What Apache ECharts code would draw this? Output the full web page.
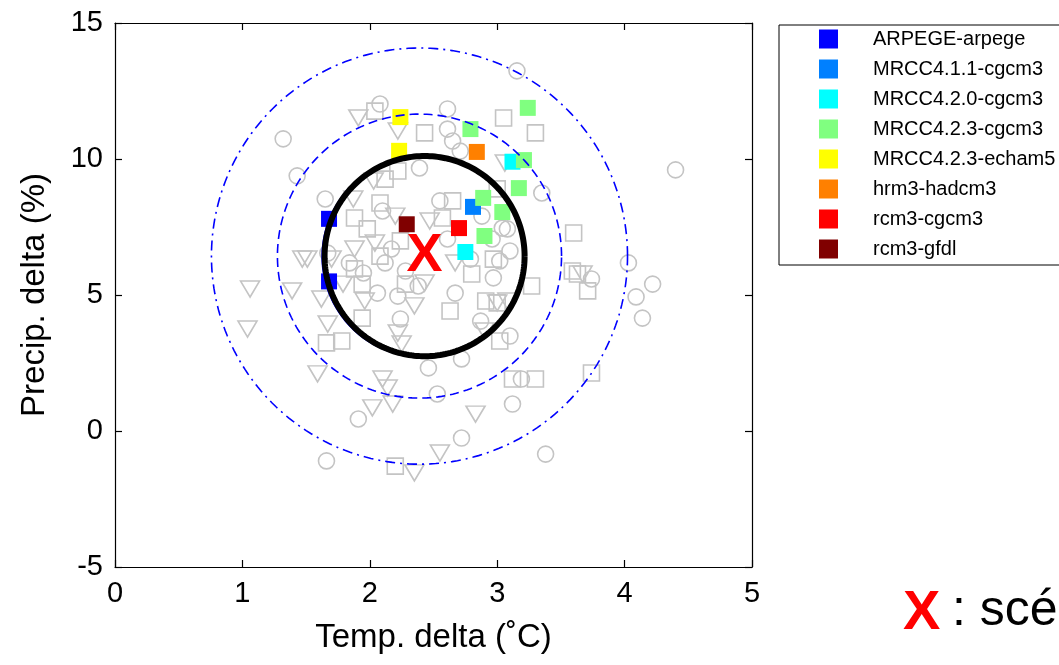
<!DOCTYPE html>
<html><head><meta charset="utf-8">
<script src="https://cdn.jsdelivr.net/npm/echarts@6/dist/echarts.min.js"></script>
<style>html,body{margin:0;padding:0;background:#fff}#c{width:1059px;height:665px}</style>
</head><body><div id="c"></div>
<script>
// ---- data ----
const xTicks = [0, 1, 2, 3, 4, 5];
const yTicks = [-5, 0, 5, 10, 15];
const modelNames = ['ARPEGE-arpege','MRCC4.1.1-cgcm3','MRCC4.2.0-cgcm3','MRCC4.2.3-cgcm3','MRCC4.2.3-echam5','hrm3-hadcm3','rcm3-cgcm3','rcm3-gfdl'];
const modelColors = ['#0000ff','#0080ff','#00ffff','#80ff80','#ffff00','#ff8000','#ff0000','#800000'];
const arpege = [[1.68, 7.8], [1.68, 5.5]];
const mrcc411 = [[2.81, 8.24]];
const mrcc420 = [[3.12, 9.9], [2.75, 6.58]];
const mrcc423cgcm3 = [[3.24, 11.88], [2.79, 11.1], [3.21, 9.96], [3.17, 8.93], [2.89, 8.57], [3.04, 8.05], [2.90, 7.17]];
const mrcc423echam5 = [[2.24, 11.54], [2.23, 10.3]];
const hrm3 = [[2.84, 10.26]];
const rcm3cgcm3 = [[2.70, 7.46]];
const rcm3gfdl = [[2.29, 7.6]];
const modelPoints = [arpege, mrcc411, mrcc420, mrcc423cgcm3, mrcc423echam5, hrm3, rcm3cgcm3, rcm3gfdl];

const grayCircles = [[3.155,13.24],[2.08,12.02],[1.32,10.74],[1.43,9.38],[2.39,9.67],[1.65,8.53],[2.61,11.84],[2.61,11.10],
  [2.65,10.66],[2.71,10.29],[3.35,8.75],[4.40,9.60],[4.03,6.18],[4.22,5.40],[4.09,4.93],[4.14,4.15],[2.10,8.09],[2.17,6.69],
  [1.67,6.54],[1.95,5.81],[2.55,8.46],[2.88,7.90],[3.04,7.46],[3.08,7.43],[2.96,7.06],[2.61,7.06],[2.97,5.63],[2.22,4.96],
  [2.06,5.07],[2.46,2.32],[1.91,0.44],[1.66,-1.10],[3.10,3.49],[2.72,2.65],[3.19,1.91],[2.53,1.36],[3.12,0.99],[2.72,-0.26],
  [3.38,-0.85],[3.74,5.59],[2.28,5.88],[2.12,6.18],[2.38,5.33],[1.84,6.18],[2.79,6.32],[2.67,5.07],[2.24,4.12],[2.87,4.04],
  [3.02,6.25],[3.10,6.62]];
const graySquares = [[2.04,11.76],[2.43,10.96],[3.05,11.51],[3.30,10.96],[2.22,9.56],[2.12,9.26],[1.88,7.83],[2.08,8.38],
  [1.98,7.43],[2.65,8.46],[2.57,7.83],[3.00,8.90],[3.60,7.28],[2.97,6.32],[2.80,5.77],[3.59,5.88],[1.94,5.40],[2.28,5.40],
  [1.94,4.15],[1.66,3.24],[1.78,3.31],[2.20,-1.29],[3.27,5.33],[3.00,4.71],[3.12,1.91],[3.30,1.91],[3.74,2.13],[3.63,5.77],
  [3.71,5.15],[2.24,6.99],[2.08,6.43],[1.88,5.96],[2.63,4.41],[3.02,3.31],[2.91,4.78]];
const grayTriangles = [[1.91,11.51],[2.22,11.03],[2.03,9.19],[1.87,8.53],[2.04,6.91],[1.88,6.69],[1.47,6.32],[1.51,6.32],
  [1.70,6.32],[3.06,9.85],[3.67,5.77],[1.39,5.15],[1.06,5.22],[1.04,3.75],[1.62,4.85],[2.43,5.44],[2.35,4.60],[1.67,3.93],
  [2.22,3.60],[2.25,3.20],[1.59,2.10],[2.10,1.91],[2.14,1.58],[2.02,0.85],[2.18,0.99],[2.35,-1.54],[3.00,4.71],[2.83,0.62],
  [2.55,-0.81],[2.47,7.72],[2.67,6.18],[1.79,5.40],[1.96,4.78],[2.90,3.68],[3.08,4.78],[2.20,7.90]];

const meanScenario = [2.43, 6.43];
const spreadCenter = [2.39, 6.43];
const innerCenter = [2.415, 6.41];
const blackRingRadius = [0.785, 3.68];
const innerRingRadius = [0.79, 3.70];
const dashedRingRadius = [1.115, 5.22];
const dashDotRingRadius = [1.633, 7.65];

// ---- chart ----
const FONT = '"Liberation Sans", Arial, sans-serif';
const chart = echarts.init(document.getElementById('c'), null, {renderer: 'canvas'});

function ring(center, radii, color, width, dash, z) {
  return {
    type: 'custom', coordinateSystem: 'cartesian2d', z: z, silent: true, clip: false,
    data: [[center[0], center[1], radii[0], radii[1]]],
    encode: {x: 0, y: 1},
    renderItem: function (params, api) {
      const cx = api.value(0), cy = api.value(1), rx = api.value(2), ry = api.value(3);
      const pts = [];
      for (let i = 0; i <= 240; i++) {
        const t = i / 240 * 2 * Math.PI;
        pts.push(api.coord([cx + rx * Math.cos(t), cy + ry * Math.sin(t)]));
      }
      return {type: 'polyline', shape: {points: pts},
        style: {stroke: color, lineWidth: width, lineDash: dash, fill: null}};
    }
  };
}

const grayStyle = {color: 'rgba(0,0,0,0)', borderColor: '#c4c4c4', borderWidth: 1.6, opacity: 1};
const series = [
  {type: 'scatter', z: 1, silent: true, symbol: 'circle', symbolSize: 16, itemStyle: grayStyle, data: grayCircles},
  {type: 'scatter', z: 1, silent: true, symbol: 'rect', symbolSize: 16, itemStyle: grayStyle, data: graySquares},
  {type: 'scatter', z: 1, silent: true, symbol: 'triangle', symbolRotate: 180, symbolSize: [19, 16], itemStyle: grayStyle, data: grayTriangles}
];
modelNames.forEach(function (n, i) {
  series.push({type: 'scatter', name: n, z: 2, silent: true, symbol: 'rect', symbolSize: 16,
    itemStyle: {color: modelColors[i], opacity: 1}, data: modelPoints[i]});
});
series.push(ring(spreadCenter, dashDotRingRadius, '#0000ff', 1.6, [10, 5, 2, 5], 3));
series.push(ring(spreadCenter, dashedRingRadius, '#0000ff', 1.6, [9, 5], 3));
series.push(ring(innerCenter, innerRingRadius, '#0000ff', 1.4, null, 3));
series.push(ring(meanScenario, blackRingRadius, '#000000', 6, null, 4));
series.push({type: 'scatter', z: 5, silent: true, symbolSize: 1, itemStyle: {color: 'rgba(0,0,0,0)', opacity: 1},
  label: {show: true, position: 'inside', formatter: 'X', color: '#ff0000', opacity: 1, fontSize: 54, fontWeight: 'bold', fontFamily: FONT},
  data: [meanScenario]});

function xAx(pos, show) {
  return {type: 'value', min: xTicks[0], max: xTicks[xTicks.length - 1], interval: 1, position: pos,
    axisLine: {show: true, onZero: false, lineStyle: {color: '#000', width: 1.2}},
    axisTick: {show: true, inside: true, length: 7, lineStyle: {color: '#000', width: 1.2}},
    axisLabel: {show: show, color: '#000', fontSize: 29, fontFamily: FONT, margin: 12},
    splitLine: {show: false},
    name: show ? 'Temp. delta (˚C)' : '', nameLocation: 'middle', nameGap: 54,
    nameTextStyle: {color: '#000', fontSize: 33, fontFamily: FONT}};
}
function yAx(pos, show) {
  return {type: 'value', min: yTicks[0], max: yTicks[yTicks.length - 1], interval: 5, position: pos,
    axisLine: {show: true, onZero: false, lineStyle: {color: '#000', width: 1.2}},
    axisTick: {show: true, inside: true, length: 7, lineStyle: {color: '#000', width: 1.2}},
    axisLabel: {show: show, color: '#000', fontSize: 29, fontFamily: FONT, margin: 12},
    splitLine: {show: false},
    name: show ? 'Precip. delta (%)' : '', nameLocation: 'middle', nameGap: 64,
    nameTextStyle: {color: '#000', fontSize: 33, fontFamily: FONT}};
}

chart.setOption({
  animation: false,
  backgroundColor: '#fff',
  grid: {left: 115, right: 307, top: 23, bottom: 98, containLabel: false},
  xAxis: [xAx('bottom', true), xAx('top', false)],
  yAxis: [yAx('left', true), yAx('right', false)],
  legend: {
    data: modelNames, orient: 'vertical', left: 779, top: 25, selectedMode: false,
    icon: 'rect', itemWidth: 19, itemHeight: 19, itemGap: 10,
    padding: [4, 60, 6, 40], borderColor: '#000', borderWidth: 1,
    textStyle: {color: '#000', fontSize: 20, fontFamily: FONT, padding: [0, 0, 0, 30]}
  },
  graphic: [
    {type: 'text', left: 903, top: 586, style: {text: 'X', font: 'bold 56px "Liberation Sans", Arial', fill: '#ff0000'}},
    {type: 'text', left: 952, top: 586, style: {text: ': scénario moyen', font: '50px "Liberation Sans", Arial', fill: '#000'}}
  ],
  series: series
});
</script></body></html>
